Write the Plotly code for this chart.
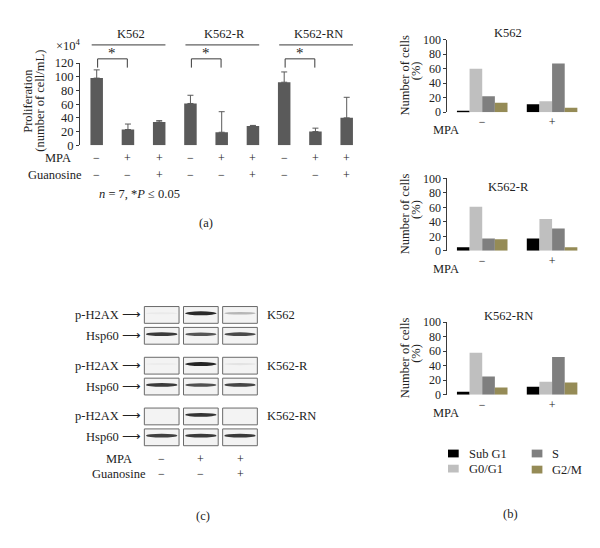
import plotly.graph_objects as go

W, H = 600, 548
FONT = "Liberation Serif"
TXT = "#222222"
AX = "#3a3a3a"
PAGE_OFF = 8  # page body margin that shifts the figure in the window

# ---------------- data ----------------
# Panel (a): proliferation (x10^4 cells/mL)
groups_a = ["K562", "K562-R", "K562-RN"]
prolif = [98, 23, 34, 61, 19, 28, 92, 20, 40]
prolif_err_top = [110, 31, 36, 73, 49, 29, 107, 25, 70]
mpa_a = ["−", "+", "+", "−", "+", "+", "−", "+", "+"]
guan_a = ["−", "−", "+", "−", "−", "+", "−", "−", "+"]
yticks_a = [0, 20, 40, 60, 80, 100, 120]

# Panel (b): cell cycle (%), values for MPA − / +
phases = ["Sub G1", "G0/G1", "S", "G2/M"]
phase_colors = ["#000000", "#bfbfbf", "#7f7f7f", "#958b56"]
mpa_b = ["−", "+"]
cells_b = ["K562", "K562-R", "K562-RN"]
k562_sub = [2, 11]
k562_g0g1 = [60, 15]
k562_s = [22, 67]
k562_g2m = [13, 6]
k562r_sub = [5, 17]
k562r_g0g1 = [61, 44]
k562r_s = [17, 31]
k562r_g2m = [16, 5]
k562rn_sub = [4, 11]
k562rn_g0g1 = [58, 18]
k562rn_s = [25, 52]
k562rn_g2m = [10, 17]
yticks_b = [0, 20, 40, 60, 80, 100]

# Panel (c): western blot band intensities (0-1) per lane
mpa_c = ["−", "+", "+"]
guan_c = ["−", "−", "+"]
ph2ax_k562 = [0.04, 0.92, 0.28]
hsp60_k562 = [0.85, 0.72, 0.78]
ph2ax_k562r = [0.03, 0.95, 0.07]
hsp60_k562r = [0.85, 0.75, 0.8]
ph2ax_k562rn = [0.0, 0.88, 0.0]
hsp60_k562rn = [0.82, 0.85, 0.85]

# ---------------- geometry helpers ----------------
def pxx(p):
    return (p - PAGE_OFF) / W

def pxy(p):
    return 1 - (p - PAGE_OFF) / H

fig = go.Figure()

# ---- panel (a) axes
XA_DOM = [pxx(80), pxx(360)]
XA_RNG = [-0.534, 8.426]
YA_DOM = [pxy(141.7), pxy(57.3)]
YA_RNG = [0, 120]

def a_x(v):
    return XA_DOM[0] + (v - XA_RNG[0]) / (XA_RNG[1] - XA_RNG[0]) * (XA_DOM[1] - XA_DOM[0])

idx = list(range(len(prolif)))
fig.add_trace(go.Bar(
    x=idx, y=prolif, width=0.4, marker=dict(color="#5a5a5a", line=dict(width=0)),
    error_y=dict(type="data", symmetric=False,
                 array=[t - v for t, v in zip(prolif_err_top, prolif)],
                 arrayminus=[0] * len(prolif), color="#5a5a5a", thickness=1, width=3),
    xaxis="x", yaxis="y", showlegend=False))

annotations = []
shapes = []

def ann(text, x, y, xref="paper", yref="paper", size=12, xanchor="center",
        yanchor="middle", angle=0, color=TXT):
    annotations.append(dict(text=text, x=x, y=y, xref=xref, yref=yref, showarrow=False,
                            font=dict(family=FONT, size=size, color=color),
                            xanchor=xanchor, yanchor=yanchor, textangle=angle))

# group headers, lines, brackets
for g, name in enumerate(groups_a):
    ann(name, 3 * g + 1.1, pxy(28), xref="x", size=12.5)
    shapes.append(dict(type="line", xref="paper", yref="paper",
                       x0=a_x(3 * g - 0.16), x1=a_x(3 * g + 2.2),
                       y0=pxy(38.7), y1=pxy(38.7), line=dict(color=AX, width=1)))
    x0, x1 = a_x(3 * g + 0.03), a_x(3 * g + 0.98)
    yt, yb = pxy(53), pxy(62)
    shapes.append(dict(type="path", xref="paper", yref="paper",
                       path=f"M{x0},{yb} L{x0},{yt} L{x1},{yt} L{x1},{yb}",
                       line=dict(color=AX, width=1)))
    ann("*", (x0 + x1) / 2, pxy(47), size=15)

ann("×10<sup>4</sup>", pxx(83), pxy(39), size=12.5, xanchor="right")
ann("Proliferation", pxx(28), pxy(96), size=12.5, angle=-90)
ann("(number of cell/mL)", pxx(40), pxy(96), size=12.5, angle=-90)
ann("MPA", pxx(58), pxy(155), size=12.5)
ann("Guanosine", pxx(55), pxy(172), size=12.5)
for i in idx:
    ann(mpa_a[i], i, pxy(155), xref="x", size=12)
    ann(guan_a[i], i, pxy(172), xref="x", size=12)
ann("<i>n</i> = 7, *<i>P</i> ≤ 0.05", pxx(139), pxy(192), size=12.5)
ann("(a)", pxx(206), pxy(221), size=12.5)

# ---- panel (b)
XB_DOM = [pxx(447.3), pxx(587)]
b_zero_px = [107.7, 250.0, 397.7]
b_top_px = [33.3, 175.7, 323.3]
b_title_px = [26.7, 185.0, 316.7]
cycle_sets = [
    [k562_sub, k562_g0g1, k562_s, k562_g2m],
    [k562r_sub, k562r_g0g1, k562r_s, k562r_g2m],
    [k562rn_sub, k562rn_g0g1, k562rn_s, k562rn_g2m],
]
BW = 0.181
layout_axes = {}
for c in range(3):
    xa = f"x{c + 2}"
    ya = f"y{c + 2}"
    for k, ph in enumerate(phases):
        fig.add_trace(go.Bar(
            x=[0, 1], y=cycle_sets[c][k], width=BW, offset=-2 * BW + k * BW,
            marker=dict(color=phase_colors[k], line=dict(width=0)),
            name=ph, xaxis=xa, yaxis=ya, showlegend=False))
    layout_axes[f"xaxis{c + 2}"] = dict(
        domain=XB_DOM, range=[-0.5, 1.5], anchor=ya, tickvals=[0, 1], ticktext=mpa_b,
        showline=False, ticks="", showgrid=False, zeroline=False,
        tickfont=dict(family=FONT, size=12, color=TXT), ticklabelstandoff=1)
    layout_axes[f"yaxis{c + 2}"] = dict(
        domain=[pxy(b_zero_px[c]), pxy(b_top_px[c])], range=[0, 100], anchor=xa,
        tickvals=yticks_b, showline=True, linecolor=AX, linewidth=1, ticks="outside",
        ticklen=3, tickcolor=AX, showgrid=False, zeroline=False,
        tickfont=dict(family=FONT, size=12, color=TXT))
    ann(cells_b[c], pxx(508.5), pxy(b_title_px[c]), size=12.5)
    ann("Number of cells", pxx(405), pxy(b_zero_px[c] - 37.5), size=12.5, angle=-90)
    ann("(%)", pxx(416), pxy(b_zero_px[c] - 42), size=12.5, angle=-90)
    ann("MPA", pxx(446), pxy(b_zero_px[c] + 18.5), size=12.5)

# legend (b)
leg_pos = [(448, 458), (448, 473.5), (531.7, 458), (531.7, 474.5)]
for k, ph in enumerate(phases):
    lx, ly = leg_pos[k]
    shapes.append(dict(type="rect", xref="paper", yref="paper",
                       x0=pxx(lx), x1=pxx(lx + 10.7), y0=pxy(ly + 4), y1=pxy(ly - 4),
                       fillcolor=phase_colors[k], line=dict(width=0)))
    ann(ph, pxx(lx + 18.5), pxy(ly), size=12.5, xanchor="left")
ann("(b)", pxx(510.7), pxy(520), size=12.5)

# ---- panel (c) blots
XC_DOM = [pxx(140), pxx(262)]
XC_RNG = [-0.554, 2.562]
YC_DOM = [pxy(458), pxy(300)]
YC_RNG = [6.771, -0.752]
fig.add_trace(go.Scatter(x=[0, 1, 2], y=[0, 0, 0], mode="markers",
                         marker=dict(opacity=0), hoverinfo="skip",
                         xaxis="x5", yaxis="y5", showlegend=False))
blots = [
    ("p-H2AX", ph2ax_k562, 0), ("Hsp60", hsp60_k562, 0),
    ("p-H2AX", ph2ax_k562r, 1), ("Hsp60", hsp60_k562r, 1),
    ("p-H2AX", ph2ax_k562rn, 2), ("Hsp60", hsp60_k562rn, 2),
]
for r, (prot, inten, g) in enumerate(blots):
    ypos = 2.48 * g + (1.02 if prot == "Hsp60" else 0.0)
    for lane, a in enumerate(inten):
        shapes.append(dict(type="rect", xref="x5", yref="y5",
                           x0=lane - 0.443, x1=lane + 0.443, y0=ypos - 0.41, y1=ypos + 0.41,
                           fillcolor="#f3f3f3", line=dict(color="#6a6a6a", width=1)))
        if a > 0.01:
            hh = 0.05 + 0.05 * a
            shapes.append(dict(type="circle", xref="x5", yref="y5",
                               x0=lane - 0.40, x1=lane + 0.40,
                               y0=ypos - 0.08 - hh, y1=ypos - 0.08 + hh,
                               fillcolor=f"rgba(25,25,25,{a:.2f})", line=dict(width=0)))
    ann(prot + " ⟶", pxx(143), ypos, yref="y5", size=12.5, xanchor="right")
    if prot == "p-H2AX":
        ann(cells_b[g], pxx(265), ypos, yref="y5", size=12.5, xanchor="left")
ann("MPA", pxx(119), pxy(463.3), size=12.5)
ann("Guanosine", pxx(119), pxy(479), size=12.5)
for lane in range(3):
    ann(mpa_c[lane], lane, pxy(463.3), xref="x5", size=12)
    ann(guan_c[lane], lane, pxy(479), xref="x5", size=12)
ann("(c)", pxx(203), pxy(521.7), size=12.5)

fig.update_layout(
    width=W, height=H, autosize=False,
    margin=dict(l=0, r=0, t=0, b=0),
    paper_bgcolor="white", plot_bgcolor="white",
    barmode="overlay",
    xaxis=dict(domain=XA_DOM, range=XA_RNG, visible=False, anchor="y"),
    yaxis=dict(domain=YA_DOM, range=YA_RNG, anchor="x", tickvals=yticks_a,
               showline=True, linecolor=AX, linewidth=1, ticks="outside", ticklen=3,
               tickcolor=AX, showgrid=False, zeroline=False,
               tickfont=dict(family=FONT, size=12.5, color=TXT)),
    xaxis5=dict(domain=XC_DOM, range=XC_RNG, visible=False, anchor="y5"),
    yaxis5=dict(domain=YC_DOM, range=YC_RNG, visible=False, anchor="x5"),
    annotations=annotations, shapes=shapes,
    font=dict(family=FONT, color=TXT),
    showlegend=False,
)
fig.update_layout(**layout_axes)

fig.write_html("out.html")
